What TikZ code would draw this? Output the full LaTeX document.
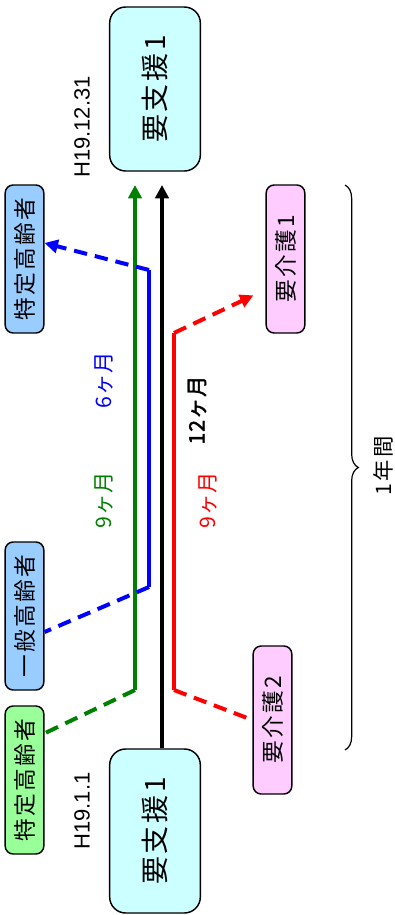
\documentclass[tikz,border=0pt]{standalone}
\usepackage{fontspec}
\setmainfont{Liberation Sans}
\newfontfamily\jp[LetterSpace=10]{Noto Sans CJK JP}
\newfontfamily\jpnarrow[LetterSpace=4]{Noto Sans CJK JP}
\newfontfamily\jpbold[LetterSpace=4, FakeBold=2]{Noto Sans CJK JP}
\usetikzlibrary{arrows.meta, decorations.pathreplacing}

\definecolor{shiencol}{HTML}{CCFFFF}
\definecolor{koureicol}{HTML}{99CCFF}
\definecolor{tokgcol}{HTML}{99FF99}
\definecolor{kaigocol}{HTML}{FFCCFF}
\definecolor{darkgreen}{RGB}{0,128,0}

\begin{document}
\begin{tikzpicture}[x=0.75pt, y=-0.75pt]
    % Define styles
    \tikzstyle{bigbox} = [rectangle, rounded corners=12pt, draw, line width=1.1pt, fill=shiencol, rotate=90, minimum width=123pt, minimum height=68pt, font=\jp\fontsize{21}{25}\selectfont]
    \tikzstyle{smallbox} = [rectangle, rounded corners=6pt, draw, line width=1.1pt, rotate=90, minimum width=111pt, minimum height=29pt, font=\jp\fontsize{17}{20}\selectfont]
    \tikzstyle{term} = [line width=3pt]
    \tikzstyle{change} = [line width=3pt, dash pattern=on 10pt off 6pt]
    \tikzstyle{arrow} = [-{Triangle[length=10pt,width=10pt]}]
    \tikzstyle{period} = [rotate=90, font=\jpnarrow\fontsize{16}{19}\selectfont]
    \tikzstyle{datelbl} = [rotate=90, font=\fontsize{16.5}{20}\selectfont]

    \useasboundingbox (0,0) rectangle (395,915);

    % Nodes
    \node[bigbox] (shienB) at (155,831) {要支援1};
    \node[bigbox] (shienT) at (155,89) {要支援1};
    \node[smallbox, fill=koureicol] (tokA) at (24.5,259) {特定高齢者};
    \node[smallbox, fill=koureicol] (ippan) at (24.5,616) {一般高齢者};
    \node[smallbox, fill=tokgcol] (tokB) at (24.5,780) {特定高齢者};
    \node[smallbox, fill=kaigocol] (kaigo1) at (285.5,259) {要介護1};
    \node[smallbox, fill=kaigocol] (kaigo2) at (272.5,720) {要介護2};
    \node[datelbl] (dateT) at (82,127) {H19.12.31};
    \node[datelbl] (dateB) at (82,811) {H19.1.1};

    % Corners of the lines
    \coordinate (kEnd) at (162,185);
    \coordinate (gStart) at (135,690);
    \coordinate (gEnd) at (135,185);
    \coordinate (bStart) at (149,587);
    \coordinate (bEnd) at (149,270);
    \coordinate (rStart) at (174,690);
    \coordinate (rEnd) at (174,333);
    \coordinate (brT) at (345,185);
    \coordinate (brB) at (345,750);

    % Connections
    \draw[term, arrow] (shienB.east -| kEnd) -- (kEnd);
    \draw[term, arrow, darkgreen] (gStart) -- (gEnd);
    \draw[change, darkgreen] (gStart) -- ([yshift=35pt]tokB.south);
    \draw[term, blue] (bStart) -- (bEnd);
    \draw[change, blue, arrow] (bEnd) -- ([yshift=12pt]tokA.south);
    \draw[change, blue] (bStart) -- ([yshift=-12pt]ippan.south);
    \draw[term, red] (rStart) -- (rEnd);
    \draw[change, red, arrow, shorten >=10pt] (rEnd) -- ([yshift=-23pt]kaigo1.north);
    \draw[change, red] (rStart) -- (kaigo2.north);

    % Periods
    \node[period, text=darkgreen] (g9) at (104,500) {9ヶ月};
    \node[period, text=blue] (b6) at (104,380) {6ヶ月};
    \node[period, font=\jpbold\fontsize{16}{19}\selectfont] (k12) at (197,410) {12ヶ月};
    \node[period, text=red] (r9) at (208,500) {9ヶ月};
    \draw[line width=0.9pt, decorate, decoration={brace, amplitude=10pt}] (brT) -- (brB);
    \node[period, font=\jp\fontsize{16}{19}\selectfont] (year) at (383,466) {1年間};
\end{tikzpicture}
\end{document}
